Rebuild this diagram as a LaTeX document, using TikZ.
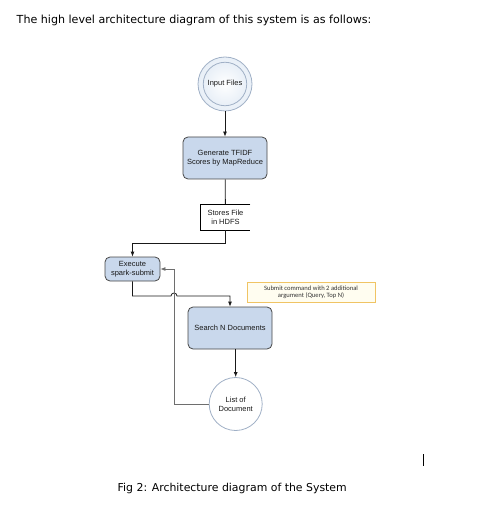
\documentclass[tikz,border=0pt]{standalone}
\usepackage{fontspec}
\setmainfont{Liberation Sans}
\newfontfamily\pagefont{DejaVu Sans}
\newfontfamily\notefont{Carlito}
\usetikzlibrary{arrows.meta}
\definecolor{boxblue}{RGB}{201, 216, 236}
\definecolor{boxedge}{RGB}{70, 70, 70}
\definecolor{circedge}{RGB}{160, 176, 198}
\definecolor{circfill}{RGB}{232, 239, 247}
\definecolor{notegold}{RGB}{240, 196, 100}
\definecolor{notefill}{RGB}{255, 253, 240}
\definecolor{retgray}{RGB}{110, 110, 110}
\begin{document}
\begin{tikzpicture}[x=1pt, y=-1pt, line width=0.8pt,
    procbox/.style={draw=boxedge, fill=boxblue, rounded corners=5pt, align=center,
      font=\fontsize{7.5}{9}\selectfont, text=black!90},
    endcirc/.style={circle, draw=circedge, fill=white, align=center,
      font=\fontsize{7.5}{9}\selectfont, text=black!90},
    flow/.style={draw=black!90, -{Latex[length=5pt, width=4pt]}},
    retline/.style={draw=retgray, -{Latex[length=5pt, width=4pt]}}]
  \useasboundingbox (0,0) rectangle (485,526);
  % page text
  \node[anchor=west, font=\pagefont\fontsize{11.1}{12}\selectfont] (title) at (13,20)
    {The high level architecture diagram of this system is as follows:};
  \node[anchor=west, font=\pagefont\fontsize{10.9}{12}\selectfont] (caption) at (114,488)
    {Fig 2: Architecture diagram of the System};
  \draw[black, line width=1pt] (423,454) -- (423,466);
  % nodes
  \node[circle, draw=circedge, inner color=white, outer color=circfill, minimum size=54] (input) at (225,84) {};
  \node[endcirc, minimum size=43, inner color=white, outer color=circfill] (inputin) at (225,84) {Input Files};
  \node[procbox, minimum width=84, minimum height=42] (tfidf) at (225,158) {Generate TFIDF\\Scores by MapReduce};
  \node[minimum width=49, minimum height=25, align=center,
    font=\fontsize{7.5}{9}\selectfont, text=black!90] (hdfs) at (225.5,217.5) {Stores File\\in HDFS};
  \node[procbox, minimum width=55, minimum height=24] (spark) at (132.5,269) {Execute\\spark-submit};
  \node[procbox, minimum width=84, minimum height=42] (search) at (230,328) {Search N Documents};
  \node[endcirc, minimum size=53] (doclist) at (235.7,404) {List of\\Document};
  \node[draw=notegold, fill=notefill, minimum width=128, minimum height=20, align=center,
    font=\notefont\fontsize{6.6}{7.4}\selectfont, text=black!80] (note) at (311,292)
    {Submit command with 2 additional\\argument (Query, Top N)};
  % connectors
  \draw[flow] (input) -- (tfidf);
  \draw[black!90] (tfidf) -- (hdfs);
  \draw[black] (hdfs.north east) -- (hdfs.north west) -- (hdfs.south west) -- (hdfs.south east);
  \draw[flow] (hdfs.south) -- ++(0,13) -| (spark.north);
  \coordinate (hop) at (174,296);
  \draw[flow] (spark.south) |- ([xshift=-3pt]hop) arc (180:360:3) -| (search.north);
  \draw[flow] (search.south -| doclist) -- (doclist);
  \coordinate (ret) at (174,269);
  \draw[retline] (doclist.west) -| (ret) -- (spark.east);
\end{tikzpicture}
\end{document}
